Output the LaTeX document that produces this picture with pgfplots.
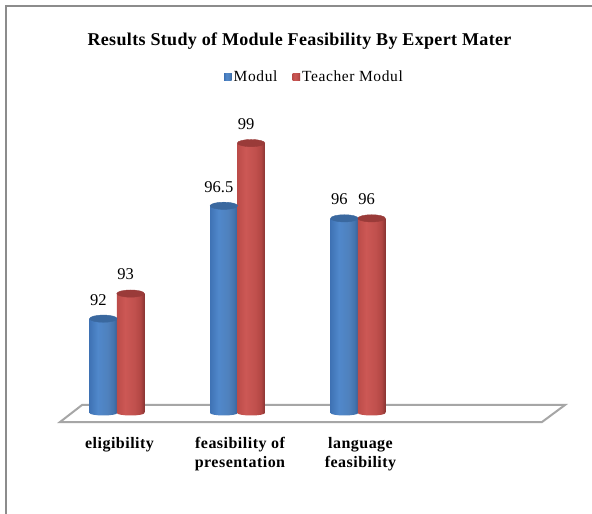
\documentclass[border=0pt]{standalone}
\usepackage{pgfplots}
\pgfplotsset{compat=1.18}
\usepackage{fontspec}
\setmainfont{Liberation Serif}

\definecolor{modulblue}{HTML}{4F81BD}
\definecolor{modulcap}{HTML}{3A689F}
\definecolor{teacherred}{HTML}{C0504D}
\definecolor{teachercap}{HTML}{9A3B39}
\definecolor{framegray}{HTML}{8C8C8C}
\definecolor{floorgray}{HTML}{A6A6A6}
\definecolor{bluea}{HTML}{3F73B5}
\definecolor{blueb}{HTML}{5088CB}
\definecolor{bluec}{HTML}{4474AE}
\definecolor{blued}{HTML}{37629A}
\definecolor{reda}{HTML}{BC4C49}
\definecolor{redb}{HTML}{CC5855}
\definecolor{redc}{HTML}{B24643}
\definecolor{redd}{HTML}{8A3533}

% Cylinder sides: lit a little left of centre, falling off towards the right edge
\pgfdeclarehorizontalshading{cylblue}{100bp}{
  color(0bp)=(bluea); color(25bp)=(bluea); color(40bp)=(blueb);
  color(58bp)=(modulblue); color(68bp)=(bluec); color(75bp)=(blued); color(100bp)=(blued)}
\pgfdeclarehorizontalshading{cylred}{100bp}{
  color(0bp)=(reda); color(25bp)=(reda); color(40bp)=(redb);
  color(58bp)=(teacherred); color(68bp)=(redc); color(75bp)=(redd); color(100bp)=(redd)}

% Rounded bottoms of the cylinders
\pgfdeclareplotmark{basemodul}{\shade[draw=none,shading=cylblue] (-13.75pt,0pt) arc[start angle=180,end angle=360,x radius=13.75pt,y radius=2.5pt] -- (13.75pt,2pt) -- (-13.75pt,2pt) -- cycle;}
\pgfdeclareplotmark{baseteacher}{\shade[draw=none,shading=cylred] (-13.75pt,0pt) arc[start angle=180,end angle=360,x radius=13.75pt,y radius=2.5pt] -- (13.75pt,2pt) -- (-13.75pt,2pt) -- cycle;}
% Tops of the cylinders, tipped slightly by the view direction
\pgfdeclareplotmark{capmodul}{\fill[modulcap,rotate=5] (0pt,0pt) ellipse[x radius=13.75pt,y radius=3.6pt];}
\pgfdeclareplotmark{capteacher}{\fill[teachercap,rotate=5] (0pt,0pt) ellipse[x radius=13.75pt,y radius=3.6pt];}

\pgfplotsset{
  modul side/.style={ybar, bar width=27.5pt, bar shift=0pt, draw=none, shading=cylblue},
  teacher side/.style={ybar, bar width=27.5pt, bar shift=0pt, draw=none, shading=cylred},
}

\begin{document}
\begin{tikzpicture}[x=1pt,y=1pt]
\path[use as bounding box] (0,0) rectangle (592,514);
\fill[white] (0,0) rectangle (592,514);
\draw[framegray,line width=2pt] (5.5,0) -- (5.5,507.5) -- (592,507.5);
\begin{axis}[
  at={(56.75pt,101pt)}, anchor=south west,
  scale only axis, width=512.1pt, height=295pt,
  xmin=-0.5, xmax=3.75, ymin=88.24, ymax=100,
  clip=false,
  axis line style={draw=none},
  major tick length=0pt,
  ytick=\empty,
  xtick={0,1,2},
  xticklabels={eligibility,{feasibility of\\presentation},{language\\feasibility}},
  xticklabel style={font=\fontsize{16}{18.5}\selectfont\bfseries\addfontfeatures{LetterSpace=3}, align=center, yshift=-21pt, xshift=2.5pt},
  /pgf/number format/assume math mode=true,
  every axis title shift=0pt,
  title={Results Study of Module Feasibility By Expert Mater},
  title style={at={(0.474,1.26)}, anchor=center, font=\fontsize{18}{20}\selectfont\bfseries\addfontfeatures{LetterSpace=2}},
  legend style={at={(0.5034,1.139)}, anchor=center, draw=none, fill=none,
    legend columns=2, font=\fontsize{15.5}{18}\selectfont\addfontfeatures{LetterSpace=4},
    /tikz/every even column/.append style={column sep=13pt}},
  every node near coord/.style={font=\fontsize{16.5}{18}\selectfont, anchor=center, xshift=-5pt, yshift=19pt, black},
]
% Floor of the chart
\addplot[forget plot, draw=floorgray, line width=2pt, fill=white, line join=miter]
  coordinates {(-0.473,87.88) (-0.290,88.56) (3.718,88.56) (3.527,87.88)} --cycle;

% Modul
\addplot[forget plot, only marks, mark=basemodul] coordinates {(-0.113,88.24) (0.887,88.24) (1.887,88.24)};
\addplot[modul side, legend image code/.code={\fill[modulblue] (0pt,-3.5pt) rectangle (7.5pt,3.5pt);}]
  coordinates {(-0.113,92)};
\addlegendentry{Modul}
\addplot[modul side, forget plot] coordinates {(0.887,96.5)};
\addplot[modul side, forget plot] coordinates {(1.887,96)};
\addplot[forget plot, only marks, mark=capmodul, nodes near coords]
  coordinates {(-0.113,92) (0.887,96.5) (1.887,96)};

% Teacher Modul
\addplot[forget plot, only marks, mark=baseteacher] coordinates {(0.113,88.24) (1.113,88.24) (2.113,88.24)};
\addplot[teacher side, legend image code/.code={\fill[teacherred] (0pt,-3.5pt) rectangle (7.5pt,3.5pt);}]
  coordinates {(0.113,93)};
\addlegendentry{Teacher Modul}
\addplot[teacher side, forget plot] coordinates {(1.113,99)};
\addplot[teacher side, forget plot] coordinates {(2.113,96)};
\addplot[forget plot, only marks, mark=capteacher, nodes near coords]
  coordinates {(0.113,93) (1.113,99) (2.113,96)};
\end{axis}
\end{tikzpicture}
\end{document}
